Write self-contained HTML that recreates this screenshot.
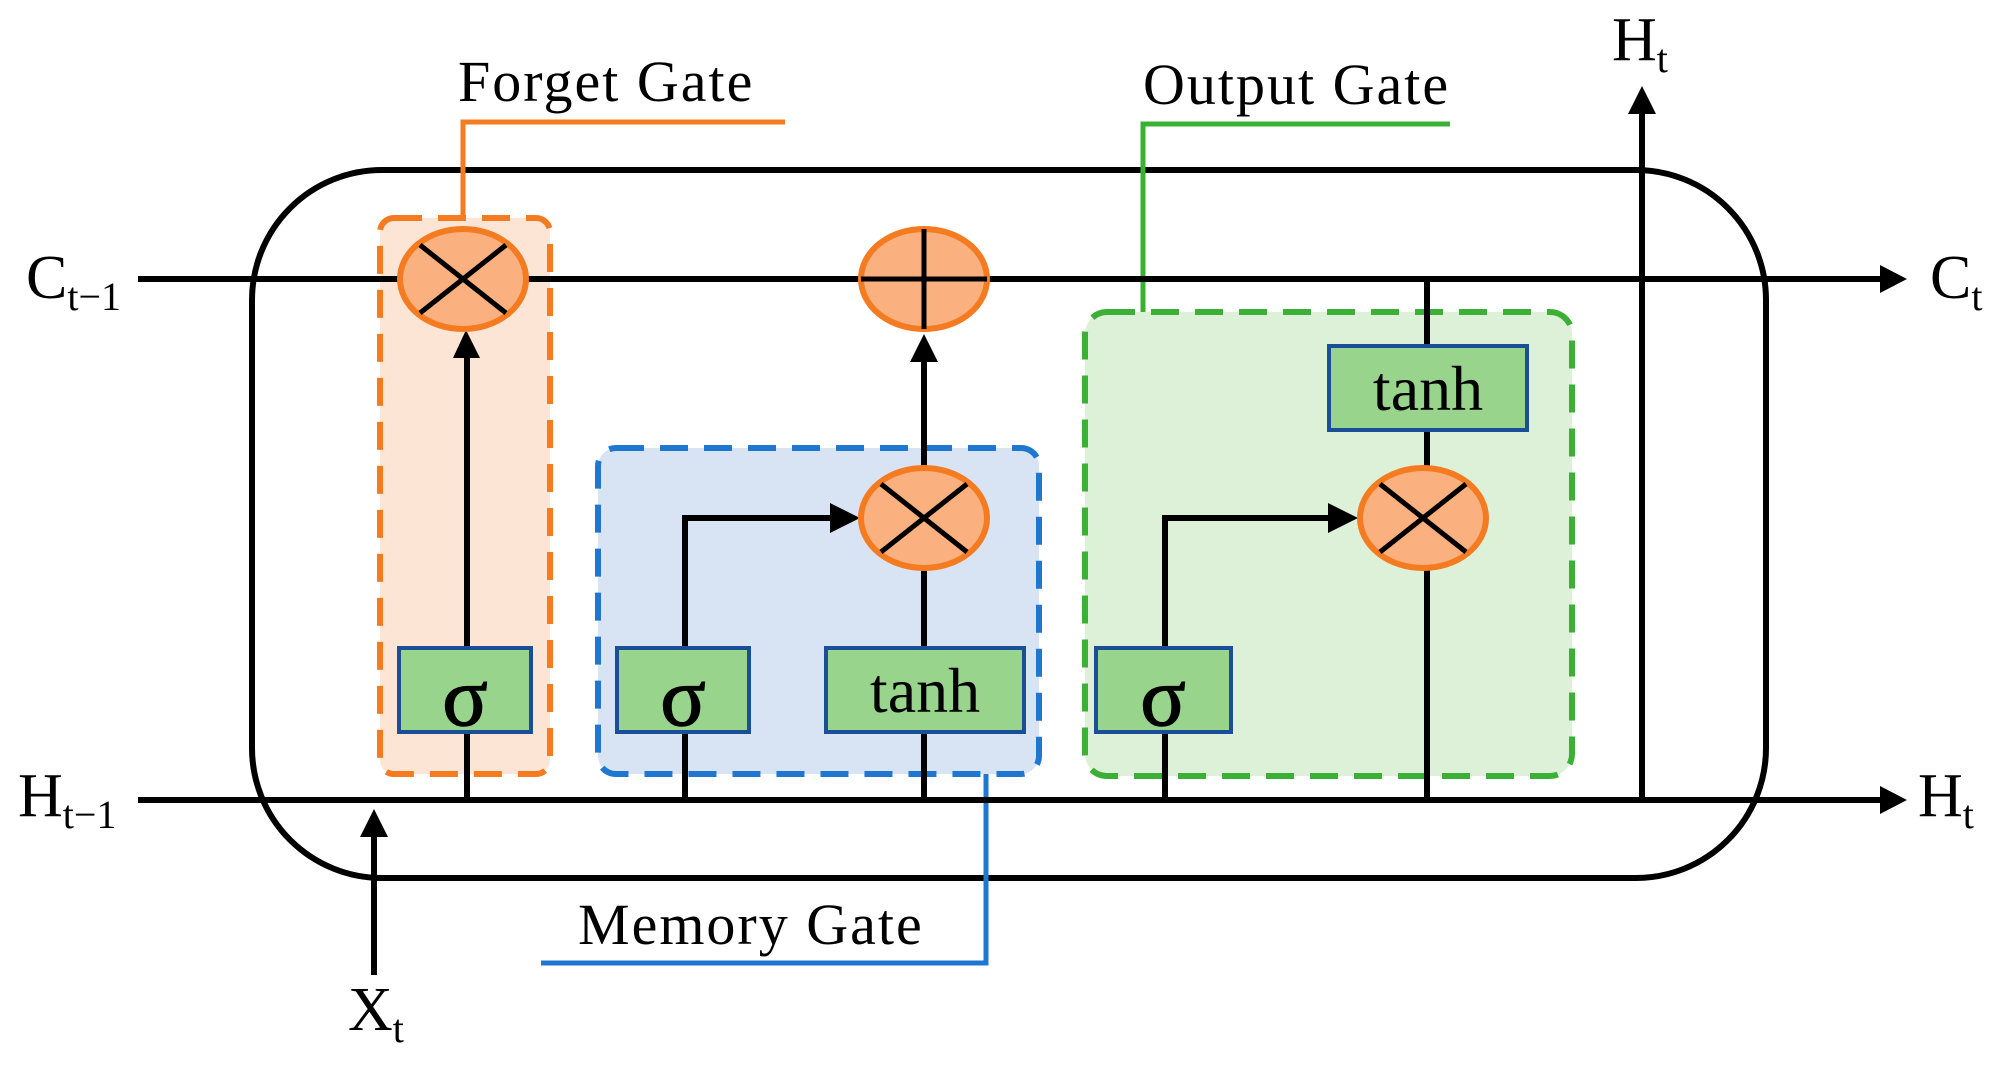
<!DOCTYPE html>
<html><head><meta charset="utf-8"><style>html,body{margin:0;padding:0;background:#fff}svg{display:block}</style></head>
<body>
<svg width="2001" height="1079" viewBox="0 0 2001 1079" xmlns="http://www.w3.org/2000/svg" font-family="Liberation Serif, serif">
<!-- gate boxes -->
<rect x="380" y="218" width="170" height="556" rx="14" fill="#fde5d6" stroke="#f47b20" stroke-width="6" stroke-dasharray="28,16"/>
<rect x="598" y="448" width="441" height="326" rx="18" fill="#d8e4f3" stroke="#1f77d0" stroke-width="6" stroke-dasharray="28,16"/>
<rect x="1085" y="312" width="487" height="464" rx="22" fill="#ddf0d8" stroke="#3cb034" stroke-width="6" stroke-dasharray="28,16"/>
<!-- outer cell -->
<rect x="252" y="170" width="1514" height="708" rx="130" fill="none" stroke="#000" stroke-width="6"/>
<!-- gate label lines -->
<polyline points="463,218 463,122 785,122" fill="none" stroke="#f47b20" stroke-width="5"/>
<polyline points="1143,312 1143,124 1450,124" fill="none" stroke="#3cb034" stroke-width="5"/>
<polyline points="986,774 986,963 541,963" fill="none" stroke="#1f77d0" stroke-width="5"/>
<!-- main lines -->
<line x1="138" y1="279" x2="1880" y2="279" stroke="#000" stroke-width="6"/>
<polygon points="1880,265 1907,279 1880,293" fill="#000"/>
<line x1="138" y1="800" x2="1880" y2="800" stroke="#000" stroke-width="6"/>
<polygon points="1880,786 1907,800 1880,814" fill="#000"/>
<!-- Xt arrow -->
<line x1="374" y1="975" x2="374" y2="835" stroke="#000" stroke-width="6"/>
<polygon points="360,837 374,809 388,837" fill="#000"/>
<!-- Ht up arrow -->
<line x1="1642" y1="800" x2="1642" y2="112" stroke="#000" stroke-width="6"/>
<polygon points="1628,114 1642,86 1656,114" fill="#000"/>
<!-- forget column -->
<line x1="467" y1="800" x2="467" y2="356" stroke="#000" stroke-width="6"/>
<polygon points="453,358 466,330 480,358" fill="#000"/>
<!-- memory -->
<polyline points="685,800 685,518 832,518" fill="none" stroke="#000" stroke-width="6"/>
<polygon points="830,503 860,518 830,533" fill="#000"/>
<line x1="924" y1="800" x2="924" y2="360" stroke="#000" stroke-width="6"/>
<polygon points="910,362 924,334 938,362" fill="#000"/>
<!-- output -->
<polyline points="1165,800 1165,518 1330,518" fill="none" stroke="#000" stroke-width="6"/>
<polygon points="1328,503 1358,518 1328,533" fill="#000"/>
<line x1="1427" y1="279" x2="1427" y2="800" stroke="#000" stroke-width="6"/>
<!-- circles -->
<g stroke="#f47b20" stroke-width="6" fill="#fbb07f">
<ellipse cx="463" cy="279" rx="63" ry="50"/>
<ellipse cx="924" cy="279" rx="63" ry="50"/>
<ellipse cx="924" cy="518" rx="63" ry="50"/>
<ellipse cx="1423" cy="518" rx="63" ry="50"/>
</g>
<g stroke="#000" stroke-width="5">
<line x1="420" y1="245" x2="506" y2="313"/><line x1="506" y1="245" x2="420" y2="313"/>
<line x1="924" y1="229" x2="924" y2="329"/><line x1="861" y1="279" x2="987" y2="279"/>
<line x1="881" y1="484" x2="967" y2="552"/><line x1="967" y1="484" x2="881" y2="552"/>
<line x1="1380" y1="484" x2="1466" y2="552"/><line x1="1466" y1="484" x2="1380" y2="552"/>
</g>
<!-- function boxes -->
<g fill="#98d48c" stroke="#1a4e96" stroke-width="4">
<rect x="399" y="648" width="132" height="84"/>
<rect x="617" y="648" width="132" height="84"/>
<rect x="826" y="648" width="198" height="84"/>
<rect x="1096" y="648" width="135" height="84"/>
<rect x="1329" y="346" width="198" height="84"/>
</g>
<g font-size="84" text-anchor="middle" fill="#000" stroke="#000" stroke-width="1.5">
<text x="465" y="725">σ</text>
<text x="683" y="725">σ</text>
<text x="1163" y="725">σ</text>
</g>
<g font-size="64" text-anchor="middle" fill="#000">
<text x="925" y="712">tanh</text>
<text x="1428" y="410">tanh</text>
</g>
<!-- labels -->
<g font-size="58" fill="#000" letter-spacing="2">
<text x="458" y="101">Forget Gate</text>
<text x="1143" y="104">Output Gate</text>
<text x="578" y="944">Memory Gate</text>
</g>
<g font-size="62" fill="#000">
<text x="26" y="298">C<tspan font-size="40" dy="12">t−1</tspan></text>
<text x="18" y="816">H<tspan font-size="40" dy="12">t−1</tspan></text>
<text x="1930" y="298">C<tspan font-size="40" dy="12">t</tspan></text>
<text x="1918" y="816">H<tspan font-size="40" dy="12">t</tspan></text>
<text x="1612" y="60">H<tspan font-size="40" dy="12">t</tspan></text>
<text x="348" y="1030">X<tspan font-size="40" dy="12">t</tspan></text>
</g>
</svg>
</body></html>
